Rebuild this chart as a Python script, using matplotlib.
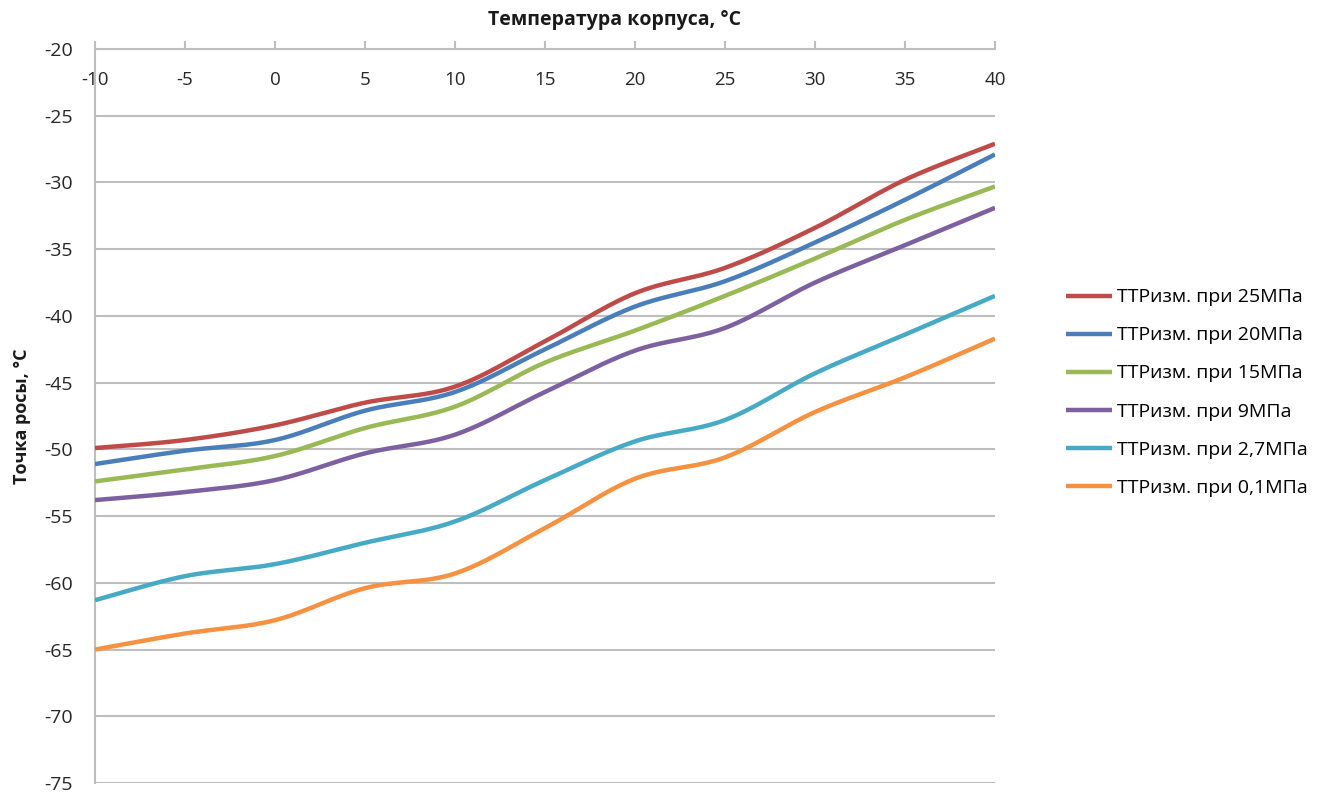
import numpy as np
import matplotlib
matplotlib.use("Agg")
import matplotlib.pyplot as plt

plt.rcParams['font.family'] = ['Open Sans', 'DejaVu Sans']

# ---- data ----
temp = [-10, -5, 0, 5, 10, 15, 20, 25, 30, 35, 40]
s25 = [-49.9, -49.3, -48.2, -46.5, -45.3, -41.9, -38.3, -36.4, -33.4, -29.8, -27.1]
s20 = [-51.1, -50.1, -49.3, -47.1, -45.7, -42.5, -39.3, -37.4, -34.5, -31.3, -27.9]
s15 = [-52.4, -51.5, -50.5, -48.4, -46.8, -43.5, -41.1, -38.5, -35.7, -32.8, -30.3]
s9 = [-53.8, -53.2, -52.3, -50.3, -48.9, -45.7, -42.6, -40.9, -37.5, -34.7, -31.9]
s27 = [-61.3, -59.5, -58.6, -57.0, -55.4, -52.3, -49.4, -47.8, -44.3, -41.4, -38.5]
s01 = [-65.0, -63.8, -62.8, -60.4, -59.3, -55.9, -52.2, -50.6, -47.2, -44.6, -41.7]

series_labels = ['ТТРизм. при 25МПа', 'ТТРизм. при 20МПа', 'ТТРизм. при 15МПа',
                 'ТТРизм. при 9МПа', 'ТТРизм. при 2,7МПа', 'ТТРизм. при 0,1МПа']
series_values = [s25, s20, s15, s9, s27, s01]
colors = ['#BE4B48', '#4A7EBB', '#98B954', '#7D60A0', '#46AAC5', '#F59140']

x_ticks = list(range(-10, 41, 5))
y_ticks = list(range(-75, -19, 5))
x_title = 'Температура корпуса, °C'
y_title = 'Точка росы, °C'


def excel_smooth(xs, ys, n=40):
    """Bezier smoothing similar to spreadsheet 'smoothed line'."""
    xs = np.asarray(xs, float)
    ys = np.asarray(ys, float)
    P = np.column_stack([xs, ys])
    m = len(P)
    out = []
    t = np.linspace(0, 1, n)[:, None]
    for i in range(m - 1):
        p0 = P[i]
        p3 = P[i + 1]
        prev = P[i - 1] if i > 0 else P[i]
        nxt = P[i + 2] if i + 2 < m else P[i + 1]
        c1 = p0 + (p3 - prev) / 6.0
        c2 = p3 - (nxt - p0) / 6.0
        seg = ((1 - t) ** 3) * p0 + 3 * ((1 - t) ** 2) * t * c1 + 3 * (1 - t) * t ** 2 * c2 + t ** 3 * p3
        if i > 0:
            seg = seg[1:]
        out.append(seg)
    out = np.vstack(out)
    return out[:, 0], out[:, 1]


fig = plt.figure(figsize=(13.36, 7.94), dpi=100)
ax = fig.add_axes([95 / 1336, 1 - 783 / 794, 900 / 1336, (783 - 49) / 794])

grid_c = '#BEBEBE'
for yv in y_ticks:
    ax.axhline(yv, color=grid_c, lw=1.5, zorder=1)

for vals, lab, c in zip(series_values, series_labels, colors):
    sx, sy = excel_smooth(temp, vals)
    ax.plot(sx, sy, color=c, lw=3.2, label=lab, solid_capstyle='butt', zorder=3)

ax.set_xlim(-10, 40)
ax.set_ylim(-75, -20)
ax.set_xticks(x_ticks)
ax.set_yticks(y_ticks)
ax.set_xticklabels([str(v) for v in x_ticks])
ax.set_yticklabels([str(v) for v in y_ticks])

for side in ['right', 'bottom']:
    ax.spines[side].set_visible(False)
for side in ['left', 'top']:
    ax.spines[side].set_color(grid_c)
    ax.spines[side].set_linewidth(1.5)

ax.xaxis.tick_top()
ax.tick_params(axis='x', direction='out', length=6, width=1.5, color=grid_c,
               labelsize=13.5, labelcolor='#262626', pad=-22)
for lbl in ax.get_xticklabels():
    lbl.set_va('top')
ax.tick_params(axis='y', length=0, labelsize=14, labelcolor='#262626', pad=16)

fig.text(614 / 1336, 1 - 20 / 794, x_title, ha='center', va='center',
         fontsize=14, fontweight='bold', color='#1a1a1a')
fig.text(22 / 1336, 1 - 416 / 794, y_title, ha='center', va='center',
         rotation=90, fontsize=13, fontweight='bold', color='#1a1a1a')

fig.legend(loc='center left', bbox_to_anchor=(1066 / 1336, 1 - 392.5 / 794),
           frameon=False, fontsize=14, handlelength=2.37, handletextpad=0.26,
           labelspacing=1.03, borderpad=0, borderaxespad=0)

fig.savefig('out.png', dpi=100)
